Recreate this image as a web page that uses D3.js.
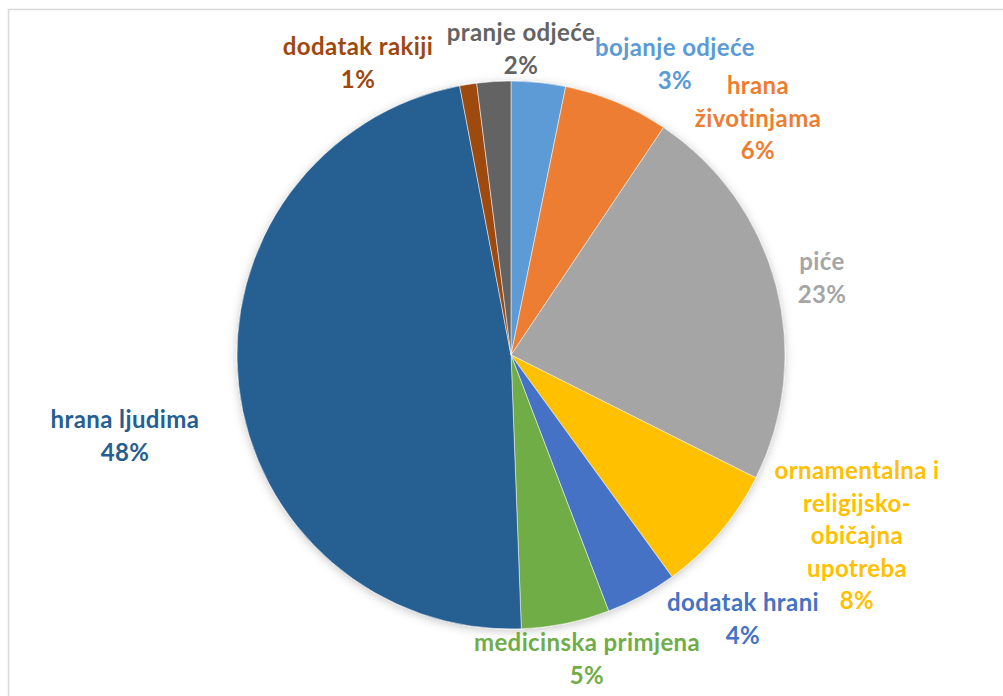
<!DOCTYPE html>
<html><head><meta charset="utf-8">
<script src="https://cdn.jsdelivr.net/npm/d3@7"></script>
<style>body{margin:0;background:#fff}svg{display:block}</style>
</head><body>
<svg id="c" width="1003" height="696"></svg>
<script>
const categories = ["bojanje odjeće","hrana životinjama","piće","ornamentalna i religijsko-običajna upotreba","dodatak hrani","medicinska primjena","hrana ljudima","dodatak rakiji","pranje odjeće"];
const values = [3.2, 6.2, 23.0, 7.6, 4.2, 5.2, 47.6, 1.0, 2.0];
const colors = ["#5B9BD5","#ED7D31","#A5A5A5","#FFC000","#4472C4","#70AD47","#255E91","#9E480E","#636363"];
const labelLines = [["bojanje odjeće"],["hrana","životinjama"],["piće"],["ornamentalna i","religijsko-","običajna","upotreba"],["dodatak hrani"],["medicinska primjena"],["hrana ljudima"],["dodatak rakiji"],["pranje odjeće"]];
// label layout (offset of label centre from pie centre, top line baseline)
const labelPos = [[164,-299],[247,-261],[311,-85],[346,124],[232,256],[76,296],[-386,73],[-153,-300],[10,-314]];

const W=1003,H=696, cx=511, cy=355, R=274;
const svg=d3.select("#c");
svg.append("rect").attr("x",8.5).attr("y",9.5).attr("width",1100).attr("height",800).attr("fill","#fff").attr("stroke","#d9d9d9").attr("stroke-width",1.5);
const defs=svg.append("defs");
const f=defs.append("filter").attr("id","sh").attr("x","-20%").attr("y","-20%").attr("width","140%").attr("height","140%");
f.append("feDropShadow").attr("dx",0).attr("dy",2).attr("stdDeviation",5).attr("flood-color","#000").attr("flood-opacity",0.22);

const total=d3.sum(values);
const pie=d3.pie().sort(null).value(d=>d)(values);
const arc=d3.arc().innerRadius(0).outerRadius(R);
const g=svg.append("g").attr("transform",`translate(${cx},${cy})`);
const pg=g.append("g").attr("filter","url(#sh)");
pg.selectAll("path").data(pie).join("path").attr("d",arc).attr("fill",(d,i)=>colors[i]).attr("stroke","#fff").attr("stroke-width",0.5);

const lh=32.5;
pie.forEach((d,i)=>{
  const lines=labelLines[i].concat([Math.round(values[i]/total*100)+"%"]);
  const t=g.append("text").attr("text-anchor","middle").attr("font-family","Lato, 'Open Sans', sans-serif")
   .attr("font-weight","bold").attr("font-size",24).attr("letter-spacing",0.4).attr("fill",colors[i]);
  lines.forEach((s,k)=>{
    t.append("tspan").attr("x",labelPos[i][0]).attr("y",labelPos[i][1]+k*lh).text(s);
  });
});
</script>
</body></html>
